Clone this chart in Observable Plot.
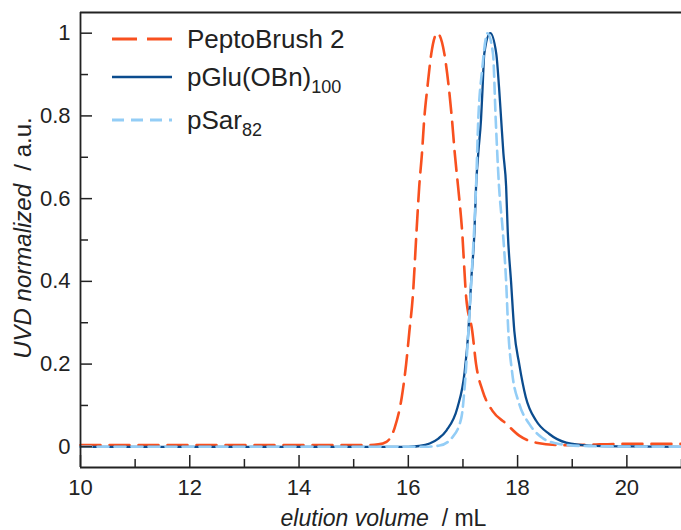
<!DOCTYPE html>
<html>
<head>
<meta charset="utf-8">
<script src="https://cdn.jsdelivr.net/npm/d3@7"></script>
<script src="https://cdn.jsdelivr.net/npm/@observablehq/plot@0.6"></script>
<style>
  html, body { margin: 0; padding: 0; background: white; }
  svg { display: block; }
</style>
</head>
<body>
<div id="chart"></div>
<script>
// ---- data ----
const seriesNames = ["PeptoBrush 2", "pGlu(OBn)", "pSar"];
const seriesSubs = ["", "100", "82"];

const peptoX = [10, 12, 14, 15.2, 15.45, 15.6, 15.75, 15.88, 15.96, 16.02, 16.08, 16.15, 16.2, 16.25, 16.29, 16.35, 16.42, 16.53, 16.66, 16.74, 16.8, 16.85, 16.91, 16.98, 17.06, 17.17, 17.24, 17.36, 17.54, 17.79, 18.03, 18.34, 18.8, 19.3, 19.8, 21];
const peptoY = [0.004, 0.004, 0.004, 0.004, 0.006, 0.012, 0.046, 0.12, 0.2, 0.28, 0.36, 0.52, 0.63, 0.71, 0.79, 0.87, 0.95, 1.0, 0.95, 0.87, 0.79, 0.71, 0.63, 0.53, 0.36, 0.28, 0.2, 0.135, 0.087, 0.056, 0.027, 0.01, 0.004, 0.005, 0.007, 0.007];

const pgluX = [10, 16.0, 16.2, 16.39, 16.55, 16.7, 16.9, 17.03, 17.1, 17.15, 17.21, 17.24, 17.28, 17.33, 17.36, 17.39, 17.5, 17.61, 17.66, 17.7, 17.74, 17.79, 17.82, 17.88, 17.94, 18.03, 18.15, 18.34, 18.58, 18.89, 19.3, 20, 21];
const pgluY = [0, 0, 0.002, 0.008, 0.02, 0.04, 0.095, 0.18, 0.28, 0.40, 0.52, 0.63, 0.71, 0.79, 0.87, 0.95, 1.0, 0.95, 0.87, 0.79, 0.71, 0.63, 0.52, 0.40, 0.28, 0.2, 0.12, 0.063, 0.031, 0.01, 0.003, 0.001, 0];

const psarX = [10, 16.3, 16.57, 16.8, 16.97, 17.04, 17.1, 17.17, 17.21, 17.24, 17.28, 17.35, 17.45, 17.55, 17.6, 17.66, 17.73, 17.79, 17.83, 17.9, 18.03, 18.21, 18.45, 18.76, 19.2, 21];
const psarY = [0, 0, 0.003, 0.022, 0.07, 0.16, 0.28, 0.44, 0.54, 0.63, 0.79, 0.91, 1.0, 0.95, 0.79, 0.63, 0.52, 0.40, 0.28, 0.18, 0.104, 0.056, 0.022, 0.007, 0.002, 0];

const xMajor = [10, 12, 14, 16, 18, 20];
const xMinor = [11, 13, 15, 17, 19, 21];
const yMajor = [0, 0.2, 0.4, 0.6, 0.8, 1];
const yMinor = [0.1, 0.3, 0.5, 0.7, 0.9];

const colors = ["#f8501f", "#0b4c8e", "#93cdf6"];
const dashes = ["20,9", null, "11,6"];
const legendDashes = ["25,10", null, "12,7"];
const widths = [2.6, 2.3, 2.6];

const pepto = peptoX.map((x, i) => ({x, y: peptoY[i]}));
const pglu = pgluX.map((x, i) => ({x, y: pgluY[i]}));
const psar = psarX.map((x, i) => ({x, y: psarY[i]}));

const axisColor = "#222";
const W = 681, H = 530, mL = 80, mR = 0, mT = 12, mB = 63;
const innerW = W - mL - mR, innerH = H - mT - mB;
const FONT = "'Liberation Sans', Arial, sans-serif";
const xDomain = [10, 21], yDomain = [-0.05, 1.05];
// pixel lengths of the inward ticks converted into data units
const pxX = (xDomain[1] - xDomain[0]) / innerW;
const pxY = (yDomain[1] - yDomain[0]) / innerH;

const plot = Plot.plot({
  width: W, height: H,
  marginLeft: mL, marginRight: mR, marginTop: mT, marginBottom: mB,
  x: {domain: xDomain},
  y: {domain: yDomain},
  style: {fontFamily: FONT, color: axisColor, background: "white"},
  marks: [
    Plot.line(pepto, {x: "x", y: "y", stroke: colors[0], strokeWidth: widths[0], strokeDasharray: dashes[0], curve: "monotone-x"}),
    Plot.line(pglu, {x: "x", y: "y", stroke: colors[1], strokeWidth: widths[1], curve: "monotone-x"}),
    Plot.line(psar, {x: "x", y: "y", stroke: colors[2], strokeWidth: widths[2], strokeDasharray: dashes[2], curve: "monotone-x"}),
    Plot.ruleX(xMajor, {x: d => d, y1: yDomain[0], y2: yDomain[0] + 12 * pxY, stroke: axisColor, strokeWidth: 1.5}),
    Plot.ruleX(xMinor, {x: d => d, y1: yDomain[0], y2: yDomain[0] + 8 * pxY, stroke: axisColor, strokeWidth: 1.5}),
    Plot.ruleY(yMajor, {y: d => d, x1: xDomain[0], x2: xDomain[0] + 12 * pxX, stroke: axisColor, strokeWidth: 1.5}),
    Plot.ruleY(yMinor, {y: d => d, x1: xDomain[0], x2: xDomain[0] + 8 * pxX, stroke: axisColor, strokeWidth: 1.5}),
    Plot.ruleX([xDomain[0]], {stroke: axisColor, strokeWidth: 1.8}),
    Plot.ruleY(yDomain, {stroke: axisColor, strokeWidth: 1.8}),
    Plot.axisX({ticks: xMajor, tickSize: 0, tickPadding: 12, fontSize: 22, label: null, tickFormat: d => String(d)}),
    Plot.axisY({ticks: yMajor, tickSize: 0, tickPadding: 10, fontSize: 22, label: null, tickFormat: d => String(d)})
  ]
});

document.getElementById("chart").appendChild(plot);

const svg = d3.select(plot);

// x axis label
const xl = svg.append("text")
  .attr("x", mL + innerW / 2 + 3).attr("y", 526)
  .attr("text-anchor", "middle")
  .attr("font-family", FONT).attr("font-size", 23).attr("fill", axisColor);
xl.append("tspan").attr("font-style", "italic").text("elution volume");
xl.append("tspan").text("\u00a0\u00a0/ mL");

// y axis label
const yl = svg.append("text")
  .attr("transform", `translate(31, 238) rotate(-90)`)
  .attr("text-anchor", "middle")
  .attr("font-family", FONT).attr("font-size", 24).attr("fill", axisColor);
yl.append("tspan").attr("font-style", "italic").text("UVD normalized");
yl.append("tspan").text("\u00a0\u00a0/ a.u.");

// legend
const rows = [39, 77, 120];
seriesNames.forEach((name, i) => {
  const g = svg.append("g");
  const ln = g.append("line")
    .attr("x1", 112).attr("x2", 172).attr("y1", rows[i]).attr("y2", rows[i])
    .attr("stroke", colors[i]).attr("stroke-width", widths[i] + 0.4);
  if (legendDashes[i]) ln.attr("stroke-dasharray", legendDashes[i]);
  const t = g.append("text")
    .attr("x", 187).attr("y", rows[i] + 9)
    .attr("text-anchor", "start")
    .attr("font-family", FONT).attr("font-size", 26).attr("fill", axisColor);
  t.append("tspan").text(name);
  if (seriesSubs[i]) {
    t.append("tspan").attr("font-size", 18).attr("dy", 7).text(seriesSubs[i]);
  }
});
</script>
</body>
</html>
